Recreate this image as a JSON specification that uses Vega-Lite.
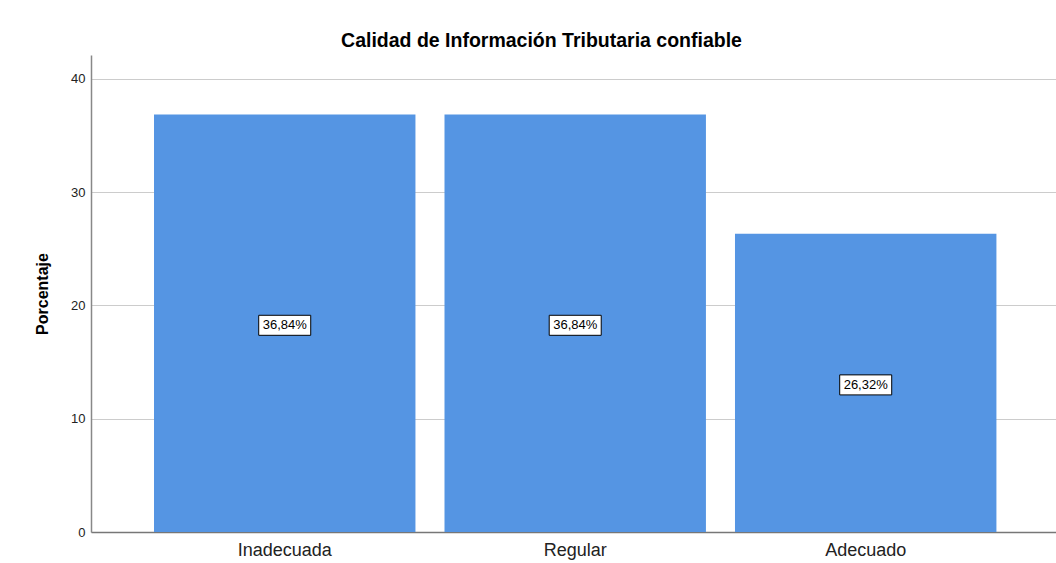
{
  "$schema": "https://vega.github.io/schema/vega-lite/v6.json",
  "autosize": {"type": "none"},
  "width": 965,
  "height": 477,
  "padding": {"left": 91, "top": 55, "right": 0, "bottom": 31},
  "background": "white",
  "config": {
    "font": "Liberation Sans",
    "view": {"stroke": null}
  },
  "title": {
    "text": "Calidad de Información Tributaria confiable",
    "fontSize": 19.5,
    "fontWeight": "bold",
    "font": "Liberation Sans",
    "color": "#000000",
    "anchor": "middle",
    "dx": -32,
    "offset": 4
  },
  "data": {
    "values": [
      {"categoria": "Inadecuada", "porcentaje": 36.84, "etiqueta": "36,84%"},
      {"categoria": "Regular", "porcentaje": 36.84, "etiqueta": "36,84%"},
      {"categoria": "Adecuado", "porcentaje": 26.32, "etiqueta": "26,32%"}
    ]
  },
  "encoding": {
    "x": {
      "field": "categoria",
      "type": "nominal",
      "sort": ["Inadecuada", "Regular", "Adecuado"],
      "scale": {"paddingInner": 0.1, "paddingOuter": 0.211, "align": 0.514},
      "axis": {
        "title": null,
        "labelAngle": 0,
        "labelFontSize": 18,
        "labelColor": "#222222",
        "labelPadding": 9,
        "ticks": false,
        "domainColor": "#777777",
        "domainWidth": 1.5,
        "grid": false
      }
    }
  },
  "layer": [
    {
      "mark": {"type": "bar", "color": "#5595e3"},
      "encoding": {
        "y": {
          "field": "porcentaje",
          "type": "quantitative",
          "scale": {"domain": [0, 42.1], "nice": false},
          "axis": {
            "title": "Porcentaje",
            "titleFontSize": 16,
            "titleFontWeight": "bold",
            "titleColor": "#000000",
            "titlePadding": 20,
            "values": [0, 10, 20, 30, 40],
            "labelFontSize": 13,
            "labelColor": "#222222",
            "labelPadding": 6,
            "ticks": false,
            "domainColor": "#888888",
            "domainWidth": 1.5,
            "grid": true,
            "gridColor": "#cccccc",
            "gridWidth": 1.2
          }
        }
      }
    },
    {
      "transform": [{"calculate": "datum.porcentaje / 2", "as": "mitad"}],
      "mark": {
        "type": "point",
        "shape": "M-1,-0.385L1,-0.385L1,0.385L-1,0.385Z",
        "size": 2704,
        "filled": true,
        "fill": "white",
        "stroke": "#000000",
        "strokeWidth": 1,
        "opacity": 1,
        "yOffset": 2
      },
      "encoding": {
        "y": {"field": "mitad", "type": "quantitative"}
      }
    },
    {
      "transform": [{"calculate": "datum.porcentaje / 2", "as": "mitad"}],
      "mark": {"type": "text", "fontSize": 13, "color": "#000000", "baseline": "middle", "align": "center", "yOffset": 2},
      "encoding": {
        "y": {"field": "mitad", "type": "quantitative"},
        "text": {"field": "etiqueta"}
      }
    }
  ]
}
